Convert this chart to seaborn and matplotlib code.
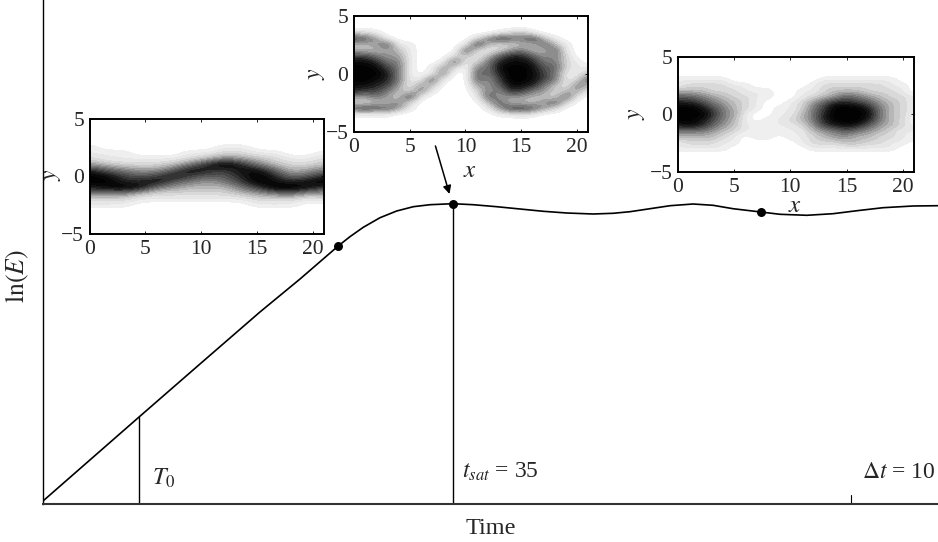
import numpy as np
import pandas as pd
import matplotlib
matplotlib.use("Agg")
import matplotlib.pyplot as plt
from matplotlib.colors import BoundaryNorm, ListedColormap
import seaborn as sns

# ---- growth curve ----
time_vals = [0, 8.2, 13.4, 18.52, 21.94, 25.2, 26.2, 27.34, 28.77, 30.19, 31.61, 33.04, 35.0, 36.71,
             38.73, 40.72, 42.71, 44.71, 46.95, 48.66, 50.11, 51.82, 53.53, 55.49, 57.2, 58.9,
             61.27, 62.92, 65.2, 67.44, 69.49, 71.71, 74.27, 76.4]
lnE_vals = [0.3, 8.7, 14.0, 19.2, 22.5, 25.8, 26.73, 27.67, 28.63, 29.3, 29.73, 29.93, 30.03, 29.93,
            29.73, 29.5, 29.27, 29.1, 29.0, 29.07, 29.23, 29.53, 29.83, 30.0, 29.87, 29.53,
            29.2, 28.97, 28.87, 29.03, 29.33, 29.63, 29.8, 29.83]
marker_t = [25.2, 35.0, 61.27]
marker_lnE = [25.8, 30.03, 29.2]
T0 = 8.2
t_sat = 35.0
dt_tick = 69.0
T0_top = 8.7
tsat_top = 30.03

# ---- inset fields, 0 (white) .. A (black), one string per row, y from 4 down to -4 ----
y_rows = [4, 3.5, 3, 2.5, 2, 1.5, 1, 0.5, 0, -0.5, -1, -1.5, -2, -2.5, -3, -3.5, -4]

x_early = [0, 1.5, 3, 4.5, 6, 7.5, 9, 10.5, 12, 13.5, 15, 16.5, 18, 19.5, 21]
field_early = [
    "000000000000000",
    "000000000000000",
    "000000000000000",
    "100000001100000",
    "111000112211001",
    "211111235432112",
    "43222358A853223",
    "865446987996345",
    "A976797668A8568",
    "AA88965457A989A",
    "89A95433357AA97",
    "555322222345644",
    "222111111122212",
    "111000000011100",
    "000000000000000",
    "000000000000000",
    "000000000000000",
]

x_full = list(range(22))
field_sat = [
    "0000000000000000000000",
    "2210000000000123100000",
    "7641000000025765731000",
    "3346110000173223363100",
    "3334310000621245336100",
    "7754410002313688645200",
    "9985510016125899855210",
    "AA975101420559AA966211",
    "AAA85101500658AA975113",
    "AA985116100647AA975126",
    "9987414300044699853153",
    "8775325100025487542341",
    "4454271000016444332610",
    "2233520000003633346200",
    "6766410000001477642000",
    "1111000000000112100000",
    "0000000000000000000000",
]

field_late = [
    "0000000000000000000000",
    "0000000000000000000000",
    "1111100000000111111100",
    "1222211000001222222110",
    "3332221110011233322210",
    "6654322110012346543221",
    "8875432100124688764321",
    "AA975321011257AAA85321",
    "AAA85410011358AAA95321",
    "AA975310112358AAA85320",
    "8986431111124789864321",
    "5554321111113456543211",
    "3333210110112344332211",
    "1222110000012223322110",
    "1111100000001111111100",
    "0000000000000000000000",
    "0000000000000000000000",
]

# grey reached at each field value
shade_values = [0.5, 1, 2, 3, 4, 5, 6, 7, 8, 9, 10]
shade_greys = [0.95, 0.93, 0.85, 0.74, 0.6, 0.47, 0.36, 0.25, 0.12, 0.04, 0.0]

W, H = 938, 542
plt.rcParams.update({"mathtext.fontset": "stix"})
sns.set_style("white")
plt.rcParams["font.family"] = ["Liberation Serif", "DejaVu Serif"]
plt.rcParams["axes.unicode_minus"] = True


def box(l, t, r, b):
    return [l / W, 1 - b / H, (r - l) / W, (b - t) / H]


fig = plt.figure(figsize=(W / 100, H / 100), dpi=100, facecolor="white")
ax = fig.add_axes(box(43, 0, 938, 504))
curve = pd.DataFrame({"t": time_vals, "lnE": lnE_vals})
sns.lineplot(data=curve, x="t", y="lnE", ax=ax, color="black", lw=1.2, errorbar=None, sort=False)
sns.scatterplot(x=marker_t, y=marker_lnE, ax=ax, color="black", s=42, zorder=5, linewidth=0)
ax.set_xlim(0, 76.4)
ax.set_ylim(0, 50.4)
ax.set_xticks([])
ax.set_yticks([])
ax.set_xlabel("")
ax.set_ylabel("")
for s in ("top", "right"):
    ax.spines[s].set_visible(False)
ax.spines["left"].set_linewidth(1.0)
ax.spines["left"].set_color("black")
ax.spines["bottom"].set_linewidth(1.5)
ax.spines["bottom"].set_color("#333333")
ax.plot([T0, T0], [0, T0_top], color="black", lw=1)
ax.plot([t_sat, t_sat], [0, tsat_top], color="black", lw=1)
ax.plot([dt_tick, dt_tick], [0, 0.9], color="black", lw=0.8)
ax.text(9.3, 2.6, r"$T_0$", fontsize=17.5, ha="left", va="center")
ax.text(35.8, 3.2, r"$t_{sat}$ = 35", fontsize=17, ha="left", va="center")
ax.text(69.9, 3.2, r"$\Delta t$ = 10", fontsize=17, ha="left", va="center")
fig.text(491 / W, 1 - 528 / H, "Time", fontsize=17.5, ha="center", va="center")
fig.text(17 / W, 1 - 276 / H, r"$\ln(E)$", fontsize=18.5, rotation=90, ha="center", va="center")

levels = np.arange(0.45, 10.6, 0.6)
mids = (levels[:-1] + levels[1:]) / 2
cmap = ListedColormap([str(round(float(g), 3)) for g in np.interp(mids, shade_values, shade_greys)])
cmap.set_under("white")
cmap.set_over("black")
norm = BoundaryNorm(levels, cmap.N, extend="neither", clip=False)


def inset(rect, xs, rows, xlabel, ylab_pos):
    a = fig.add_axes(box(*rect), zorder=3)
    z = np.array([[int(c, 16) for c in r] for r in rows], dtype=float)
    dx = (xs[1] - xs[0]) / 2
    dy = abs(y_rows[1] - y_rows[0]) / 2
    a.imshow(z, extent=(xs[0] - dx, xs[-1] + dx, y_rows[-1] - dy, y_rows[0] + dy), origin="upper",
             cmap=cmap, norm=norm, interpolation="bicubic", interpolation_stage="data", aspect="auto")
    a.set_xlim(0, 21)
    a.set_ylim(-5, 5)
    a.set_xticks([0, 5, 10, 15, 20])
    a.set_yticks([-5, 0, 5])
    a.tick_params(direction="in", length=2.5, width=0.6, labelsize=15.5, pad=4, color="black",
                  bottom=True, left=True, top=True, right=True)
    for s in a.spines.values():
        s.set_visible(True)
        s.set_linewidth(1.4)
        s.set_color("black")
    if xlabel:
        fig.text(xlabel[0] / W, 1 - xlabel[1] / H, r"$x$", fontsize=18, ha="center", va="center", zorder=6)
    fig.text(ylab_pos[0] / W, 1 - ylab_pos[1] / H, r"$y$", fontsize=17, rotation=90, ha="center", va="center", zorder=6)
    return a


inset((89.5, 119, 324, 234), x_early, field_early, None, (52, 175))
inset((354, 16, 588, 132), x_full, field_sat, (470, 171), (316, 74))
inset((678, 57, 914, 172), x_full, field_late, (795, 206), (636, 114))

ax.annotate("", xy=(34.7, 31.0), xytext=(33.5, 35.8),
            arrowprops=dict(arrowstyle="-|>", color="black", lw=1.1, shrinkA=0, shrinkB=0, mutation_scale=12))

fig.savefig("out.png", dpi=100)
